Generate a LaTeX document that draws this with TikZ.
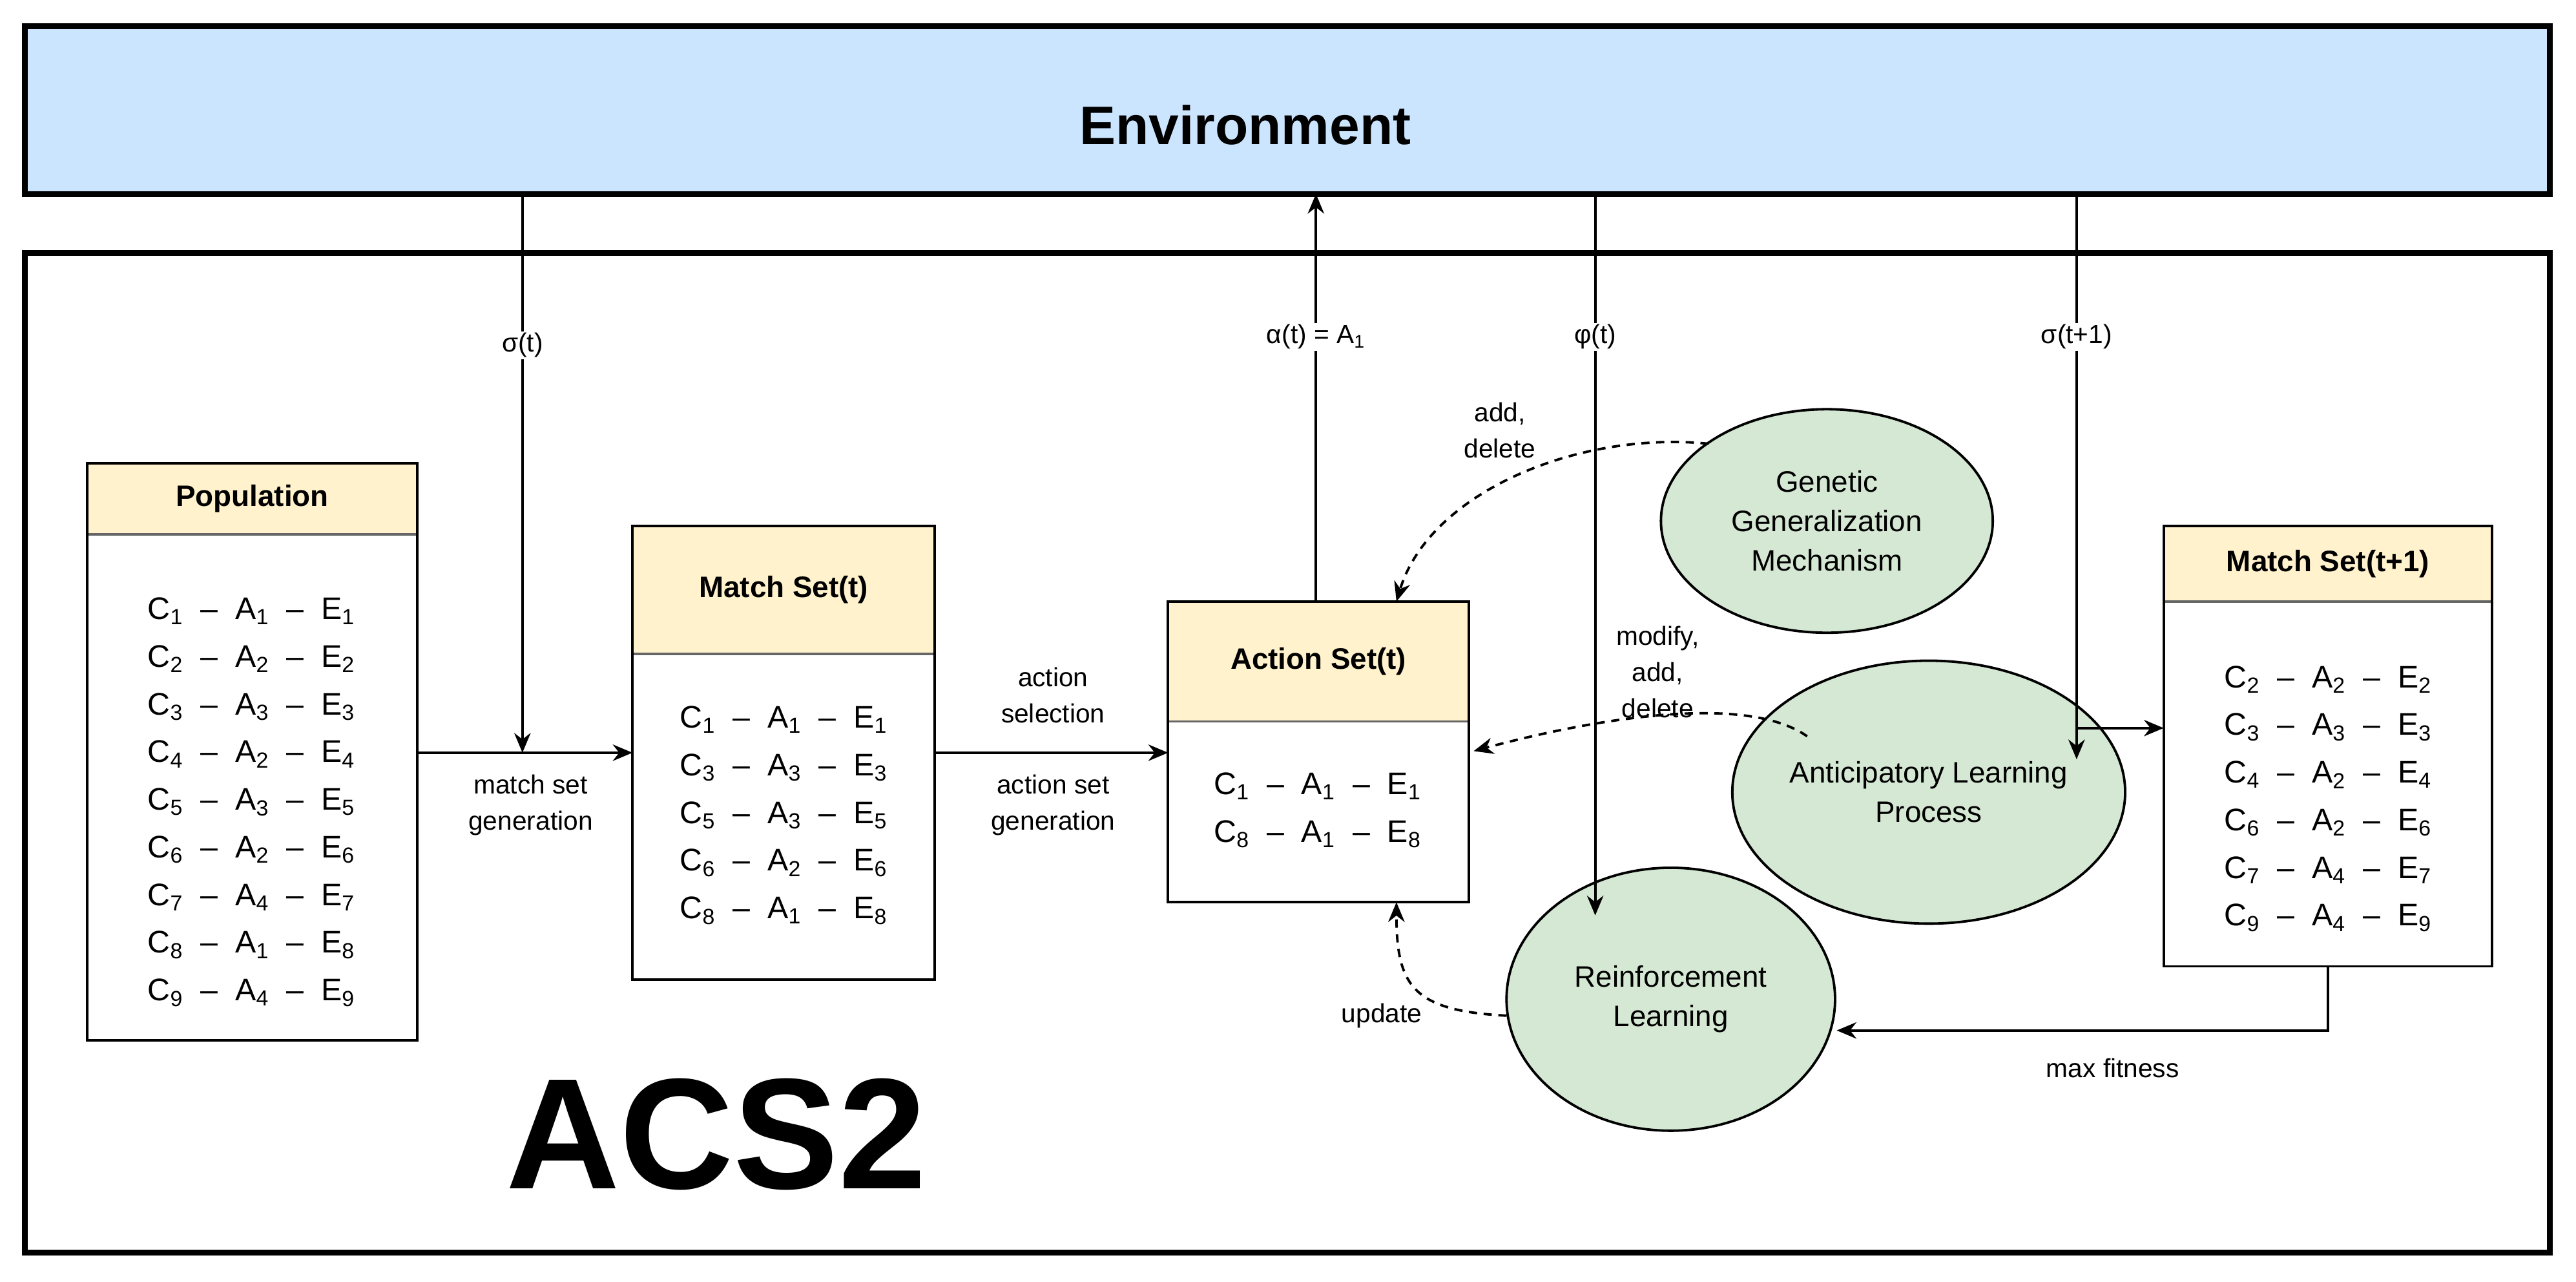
\documentclass[tikz,border=0pt]{standalone}
\usepackage{fontspec}
\setmainfont{Liberation Sans}
\usetikzlibrary{arrows.meta,shapes.geometric}
\definecolor{envblue}{HTML}{CCE5FF}
\definecolor{hdr}{HTML}{FFF2CC}
\definecolor{grn}{HTML}{D5E8D4}
\newcommand\cae[3]{C\textsubscript{#1}~~–~~A\textsubscript{#2}~~–~~E\textsubscript{#3}}
\newcommand\setbx[6]{%
  \fill[hdr] (#1,#2) rectangle (#3,#5);
  \draw[line width=1.5pt,gray!80!black] (#1,#5) -- (#3,#5);
  \draw[line width=1.5pt] (#1,#2) rectangle (#3,#4);
  \node[hdrtxt] at ({(#1+#3)/2},{(#2+#5)/2}) {#6};}
\begin{document}
\begin{tikzpicture}[x=1pt,y=-1pt,
  arr/.style={-{Stealth[length=12pt,width=10pt]},line width=1.5pt},
  darr/.style={arr,dashed,dash pattern=on 5pt off 4pt},
  lbl/.style={font=\fontsize{16}{22}\selectfont,align=center},
  hdrtxt/.style={font=\fontsize{18}{22}\selectfont\bfseries},
  rows/.style={font=\fontsize{19}{29}\selectfont,align=center},
  ell/.style={draw,line width=1.5pt,fill=grn,ellipse,inner sep=0pt,font=\fontsize{18}{24}\selectfont,align=center}]
\useasboundingbox (0,0) rectangle (1568,780);
\fill[white] (0,0) rectangle (1568,780);
% environment
\draw[line width=3.5pt,fill=envblue] (15,16) rectangle (1552,118);
\node[font=\fontsize{33}{36}\selectfont\bfseries] (env) at (758,76) {Environment};
\draw[line width=3.5pt] (15,154) rectangle (1552,762);
\node[font=\fontsize{96}{100}\selectfont\bfseries] (acs) at (436,690) {ACS2};
% boxes
\setbx{53}{282}{254}{633}{325}{Population}
\setbx{385}{320}{569}{596}{398}{Match Set(t)}
\setbx{711}{366}{894}{549}{439}{Action Set(t)}
\setbx{1317}{320}{1517}{588}{366}{Match Set(t+1)}
\coordinate (pop) at (254,458);
\coordinate (msl) at (385,458);
\coordinate (msr) at (569,458);
\coordinate (asl) at (711,458);
\coordinate (ast) at (801,366);
\coordinate (asth) at (850,366);
\coordinate (asr) at (897,457);
\coordinate (asb) at (850,549);
\coordinate (m1l) at (1317,443);
\coordinate (m1b) at (1417,588);
\node[rows] (poprows) at (153,488) {\cae11 1\\\cae22 2\\\cae33 3\\\cae42 4\\\cae53 5\\\cae62 6\\\cae74 7\\\cae81 8\\\cae94 9};
\node[rows] (msrows) at (477,496) {\cae11 1\\\cae33 3\\\cae53 5\\\cae62 6\\\cae81 8};
\node[rows] (asrows) at (802,493) {\cae11 1\\\cae81 8};
\node[rows] (m1rows) at (1417,486) {\cae22 2\\\cae33 3\\\cae42 4\\\cae62 6\\\cae74 7\\\cae94 9};
% ellipses
\node[ell,minimum width=202pt,minimum height=136pt] (ggm) at (1112,317) {Genetic\\Generalization\\Mechanism};
\node[ell,minimum width=202pt,minimum height=160pt] (alp) at (1174,482) {Anticipatory Learning\\Process};
\node[ell,minimum width=200pt,minimum height=160pt] (rl) at (1017,608) {Reinforcement\\Learning};
% arrows
\coordinate (s1) at (318,118);
\coordinate (s1e) at (318,458);
\draw[arr] (s1) -- (s1e);
\node[lbl,fill=white,inner sep=1pt] (l1) at (318,210) {σ(t)};
\draw[arr] (pop) -- (msl);
\node[lbl] (l2) at (323,490) {match set\\generation};
\draw[arr] (msr) -- (asl);
\node[lbl] (l3) at (641,423) {action\\selection};
\node[lbl] (l4) at (641,490) {action set\\generation};
\coordinate (a1) at (801,118);
\draw[arr] (ast) -- (a1);
\node[lbl,fill=white,inner sep=1pt] (l5) at (801,205) {α(t) = A\textsubscript{1}};
\coordinate (p1) at (971,118);
\coordinate (p1e) at (971,557);
\draw[arr] (p1) -- (p1e);
\node[lbl,fill=white,inner sep=1pt] (l6) at (971,205) {φ(t)};
\coordinate (s2) at (1264,118);
\coordinate (s2e) at (1264,462);
\coordinate (s2b) at (1264,443);
\draw[arr] (s2) -- (s2e);
\draw[arr] (s2b) -- (m1l);
\node[lbl,fill=white,inner sep=1pt] (l7) at (1264,205) {σ(t+1)};
\coordinate (g0) at (1040,270);
\draw[darr] (g0) .. controls (960,262) and (870,300) .. (asth);
\node[lbl] (l8) at (913,262) {add,\\delete};
\coordinate (al0) at (1100,448);
\draw[darr] (al0) .. controls (1060,420) and (960,440) .. (asr);
\node[lbl] (l9) at (1009,409) {modify,\\add,\\delete};
\coordinate (r0) at (917,618);
\draw[darr] (r0) .. controls (860,615) and (850,600) .. (asb);
\node[lbl] (l10) at (841,618) {update};
\coordinate (rlr) at (1118,627);
\coordinate (corner) at (1417,627);
\draw[arr] (m1b) -- (corner) -- (rlr);
\node[lbl] (l11) at (1286,650) {max fitness};
\end{tikzpicture}
\end{document}
